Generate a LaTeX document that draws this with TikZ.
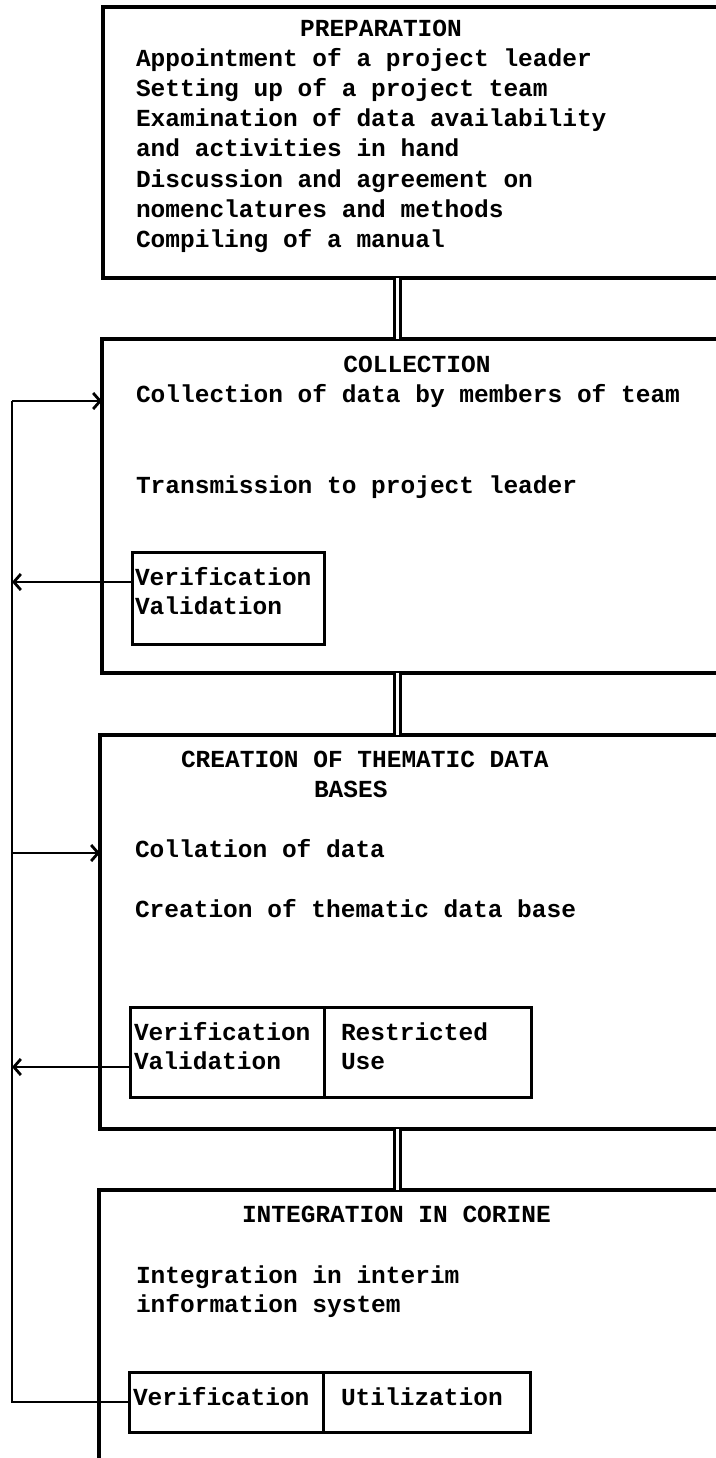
\documentclass[tikz,border=0pt]{standalone}
\usepackage{fontspec}
\setmonofont{Liberation Mono}
\usetikzlibrary{arrows.meta}

\begin{document}
\begin{tikzpicture}[x=1pt,y=-1pt,
		every node/.style={inner sep=0pt, outer sep=0pt},
		stage/.style={draw, line width=3.2pt, anchor=north west, minimum width=650pt},
		check/.style={draw, line width=3pt, anchor=north west},
		txt/.style={anchor=base west, align=left, font=\ttfamily\bfseries\fontsize{24.5}{30}\selectfont},
		link/.style={double, double distance=3.4pt, line width=2.4pt},
		flow/.style={line width=2.8pt, -{Straight Barb[length=7pt,width=16pt]}},
		backline/.style={line width=2.8pt}]
	\useasboundingbox (0,0) rectangle (715,1458);

	% the four stages
	\node[stage, minimum height=271pt] (prep) at (103,7) {};
	\node[stage, minimum height=334pt] (coll) at (102,339) {};
	\node[stage, minimum height=394pt] (thm) at (100,735) {};
	\node[stage, minimum height=320pt] (int) at (99,1190) {};

	% checking boxes
	\node[check, minimum width=192pt, minimum height=92pt] (coll-ver) at (132,552) {};
	\node[check, minimum width=194pt, minimum height=90pt] (thm-ver) at (130,1007) {};
	\node[check, minimum width=207pt, minimum height=90pt] (thm-use) at (324,1007) {};
	\node[check, minimum width=194pt, minimum height=60pt] (int-ver) at (129,1372) {};
	\node[check, minimum width=207pt, minimum height=60pt] (int-use) at (323,1372) {};

	% texts (multi-line nodes sit on their last baseline)
	\node[txt, anchor=base] (prep-head) at (381,37) {PREPARATION};
	\node[txt] (prep-text) at (136,247) {Appointment of a project leader\\
		Setting up of a project team\\
		Examination of data availability\\
		and activities in hand\\
		Discussion and agreement on\\
		nomenclatures and methods\\
		Compiling of a manual};
	\node[txt, anchor=base] (coll-head) at (417,372) {COLLECTION};
	\node[txt] (coll-text1) at (136,402) {Collection of data by members of team};
	\node[txt] (coll-text2) at (136,493) {Transmission to project leader};
	\node[txt] (coll-vtext) at (135,614) {Verification\\[-1pt]Validation};
	\node[txt] (thm-head1) at (181,767) {CREATION OF THEMATIC DATA};
	\node[txt] (thm-head2) at (314,797) {BASES};
	\node[txt] (thm-text1) at (135,857) {Collation of data};
	\node[txt] (thm-text2) at (135,917) {Creation of thematic data base};
	\node[txt] (thm-vtext) at (134,1069) {Verification\\[-1pt]Validation};
	\node[txt] (thm-utext) at (341,1069) {Restricted\\[-1pt]Use};
	\node[txt] (int-head) at (242,1222) {INTEGRATION IN CORINE};
	\node[txt] (int-text) at (136,1312) {Integration in interim\\[-1pt]information system};
	\node[txt] (int-vtext) at (133,1405) {Verification};
	\node[txt] (int-utext) at (341,1405) {Utilization};

	% links between stages
	\coordinate (spine) at (397.5,0);
	\draw[link] (prep.south -| spine) -- (coll.north -| spine);
	\draw[link] (coll.south -| spine) -- (thm.north -| spine);
	\draw[link] (thm.south -| spine) -- (int.north -| spine);

	% feedback loop
	\coordinate (in1) at (12,401);
	\coordinate (in2) at (12,853);
	\coordinate (out1) at (12,582);
	\coordinate (out2) at (12,1067);
	\draw[backline] (in1) -- (int-ver.west -| in1) -- (int-ver.west);
	\draw[flow] (in1) -- (in1 -| coll.west);
	\draw[flow] (in2) -- (in2 -| thm.west);
	\draw[flow] (out1 -| coll-ver.west) -- (out1);
	\draw[flow] (out2 -| thm-ver.west) -- (out2);
\end{tikzpicture}
\end{document}
